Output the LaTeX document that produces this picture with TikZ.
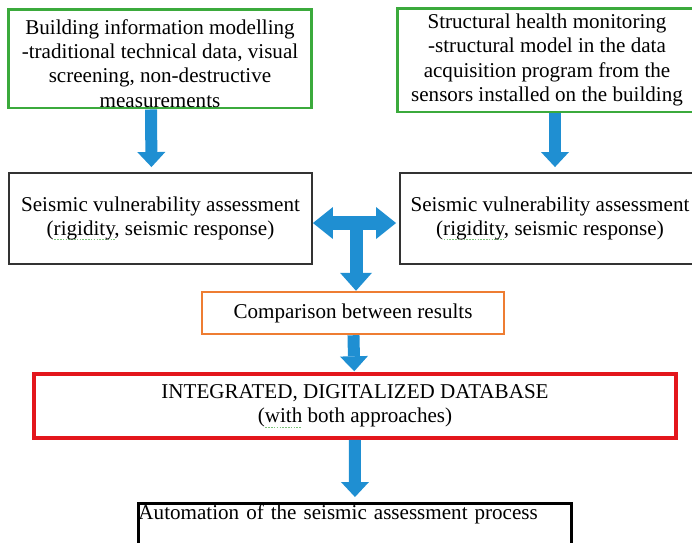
\documentclass[tikz,border=0pt]{standalone}
\usepackage{fontspec}
\setmainfont{Liberation Serif}
\usetikzlibrary{arrows.meta}
\definecolor{flowblue}{HTML}{1F8FD2}
\definecolor{srcgreen}{HTML}{3BAA3C}
\definecolor{cmporange}{HTML}{EE7D32}
\definecolor{dbred}{HTML}{E3161C}
\definecolor{boxgray}{HTML}{333333}
\definecolor{markgreen}{HTML}{7CC47C}

% dotted green underline, as a word processor marks a word
\newlength{\gramlen}
\newcommand{\gramwave}[1]{\settowidth{\gramlen}{#1}%
  \rlap{\color{markgreen}\leaders\hbox to 1.6pt{\hss\rule[-2.8pt]{0.9pt}{0.6pt}\hss}\hskip\gramlen}#1}

\begin{document}
\begin{tikzpicture}[
  x=0.02cm, y=-0.02cm,
  font=\fontsize{12}{13.8}\selectfont,
  box/.style={rectangle, draw=boxgray, line width=1.1pt, align=center, inner sep=0pt},
  source/.style={box, draw=srcgreen, line width=1.7pt},
  result/.style={box, draw=cmporange, line width=1.4pt},
  database/.style={box, draw=dbred, line width=2pt},
  flow/.style={draw=flowblue, line width=0.24cm, -{Triangle[width=0.56cm, length=0.3cm, line width=0pt]}},
  stem/.style={draw=flowblue, line width=0.26cm, -{Triangle[width=0.64cm, length=0.36cm, line width=0pt]}},
  twoway/.style={draw=flowblue, line width=0.28cm,
    {Triangle[width=0.64cm, length=0.4cm, line width=0pt]}-{Triangle[width=0.64cm, length=0.4cm, line width=0pt]}},
]
  \useasboundingbox (0,0) rectangle (692,542);
  \clip (0,0) rectangle (692,542);

  % the two sources of data
  \node[source, minimum width=6.08cm, minimum height=1.98cm] (bim) at (160,58.5)
    {\rule{0pt}{14pt}Building information modelling\\-traditional technical data, visual\\screening, non-destructive\\measurements};
  \node[source, minimum width=6.0cm, minimum height=2.08cm] (shm) at (547,60)
    {Structural health monitoring\\-structural model in the data\\acquisition program from the\\sensors installed on the building};

  % assessments
  \node[box, minimum width=6.06cm, minimum height=1.82cm] (svaL) at (160.5,218.5)
    {Seismic vulnerability assessment\\(\gramwave{rigidity}, seismic response)};
  \node[box, minimum width=6.0cm, minimum height=1.82cm] (svaR) at (550,218.5)
    {Seismic vulnerability assessment\\(\gramwave{rigidity}, seismic response)};

  \node[result, minimum width=6.04cm, minimum height=0.84cm] (cmp) at (353,313) {Comparison between results};

  \node[database, minimum width=12.84cm, minimum height=1.28cm] (db) at (355,406)
    {INTEGRATED, DIGITALIZED DATABASE\\(\gramwave{with} both approaches)};

  \node[box, draw=black, line width=1.7pt, anchor=north west, text width=8.66cm, align=left,
    inner xsep=0pt, inner ysep=0.5pt, text height=8.8pt, text depth=15.6pt] (auto) at (137,502)
    {Automation of the seismic assessment process};

  % arrows
  \draw[flow, shorten >=0.1cm] ([xshift=-0.18cm]bim.south) -- ([xshift=-0.18cm]svaL.north);
  \draw[flow, shorten >=0.1cm] ([xshift=0.16cm]shm.south) -- ([xshift=0.16cm]shm.south |- svaR.north);
  \draw[twoway, shorten >=0.06cm] ([yshift=-0.09cm]svaL.east) -- coordinate (mid) ([yshift=-0.09cm]svaR.west);
  \draw[stem] (mid) -- (mid |- cmp.north);
  \draw[flow, shorten >=0.02cm] (cmp) -- (db);
  \draw[flow, shorten >=0.1cm] (db) -- (auto);
\end{tikzpicture}
\end{document}
